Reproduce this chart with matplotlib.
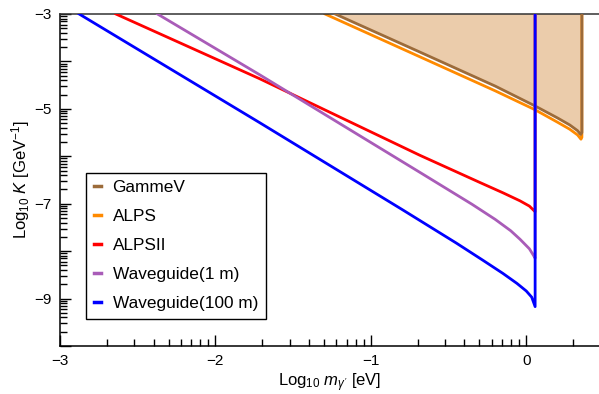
import numpy as np
import matplotlib.pyplot as plt
from matplotlib.ticker import FixedLocator, FuncFormatter

plt.rcParams['font.family'] = ['Liberation Sans', 'DejaVu Sans']
plt.rcParams['mathtext.fontset'] = 'custom'
plt.rcParams['mathtext.rm'] = 'Liberation Sans'
plt.rcParams['mathtext.it'] = 'Liberation Sans:italic'

# log10(m [eV]) and log10(K [GeV^-1])
gammev_x = [-1.23, -0.70, -0.20, 0.057, 0.20, 0.28, 0.33, 0.350, 0.358, 0.358]
gammev_y = [-3.00, -3.78, -4.52, -4.94, -5.19, -5.34, -5.46, -5.54, -5.50, -3.00]

alps_x = [-1.295, -0.70, -0.20, 0.057, 0.20, 0.28, 0.33, 0.352, 0.358, 0.358]
alps_y = [-3.00, -3.88, -4.62, -5.02, -5.28, -5.43, -5.55, -5.64, -5.60, -3.00]

alpsii_x = [-2.641, -1.716, -0.684, -0.30, -0.15, -0.04, 0.02, 0.045, 0.057, 0.057]
alpsii_y = [-3.00, -4.364, -5.98, -6.55, -6.77, -6.94, -7.05, -7.13, -7.17, -3.00]

wg1_x = [-2.373, -1.716, -0.684, -0.35, -0.20, -0.10, -0.04, 0.02, 0.054, 0.057, 0.057]
wg1_y = [-3.00, -4.28, -6.34, -7.01, -7.33, -7.57, -7.75, -7.95, -8.13, -8.15, -3.00]

wg100_x = [-2.877, -1.716, -0.80, -0.45, -0.28, -0.15, -0.06, 0.00, 0.035, 0.057, 0.057]
wg100_y = [-3.00, -5.29, -7.12, -7.83, -8.19, -8.47, -8.68, -8.84, -8.97, -9.17, -3.00]

labels = ['GammeV', 'ALPS', 'ALPSII', 'Waveguide(1 m)', 'Waveguide(100 m)']
colors = ['#9C6B3A', '#FF8A00', '#FF0000', '#A95CB8', '#0000FF']
fill_color = '#EBCCAB'

fig = plt.figure(figsize=(5.99, 3.94), dpi=100)
ax = fig.add_axes([0.1002, 0.1218, 0.8998, 0.8427])

ax.fill(gammev_x, gammev_y, color=fill_color, lw=0, zorder=1)
series = [(gammev_x, gammev_y), (alps_x, alps_y), (alpsii_x, alpsii_y),
          (wg1_x, wg1_y), (wg100_x, wg100_y)]
order = [3, 2.5, 4, 5, 6]
for (x, y), lab, c, z in zip(series, labels, colors, order):
    ax.plot(x, y, color=c, lw=2.0, label=lab, zorder=z, solid_joinstyle='round')

ax.set_xlim(-3, 0.468)
ax.set_ylim(-10, -3)

decades = np.log10(np.arange(2, 10))
ax.xaxis.set_major_locator(FixedLocator([-3, -2, -1, 0]))
ax.xaxis.set_minor_locator(FixedLocator(np.concatenate([d + decades for d in range(-3, 1)])))
ax.yaxis.set_major_locator(FixedLocator(np.arange(-10, -2)))
ax.yaxis.set_minor_locator(FixedLocator(np.concatenate([d + decades for d in range(-10, -3)])))

ax.xaxis.set_major_formatter(FuncFormatter(lambda v, p: f'{int(round(v))}'.replace('-', '\u2212')))
ax.yaxis.set_major_formatter(FuncFormatter(
    lambda v, p: f'{int(round(v))}'.replace('-', '\u2212') if int(round(v)) % 2 else ''))

ax.tick_params(which='both', direction='in', top=False, right=False, width=1.0,
               labelsize=11, pad=6)
ax.tick_params(which='major', length=8)
ax.tick_params(which='minor', length=5)

ax.spines['right'].set_visible(False)
for s in ['left', 'bottom', 'top']:
    ax.spines[s].set_linewidth(1.1)
ax.spines['top'].set_color('#333333')

ax.set_xlabel(r"Log$_{10}$ $m_{\gamma'}$ [eV]", fontsize=12, labelpad=2)
ax.set_ylabel(r"Log$_{10}$ $K$ [GeV$^{-1}$]", fontsize=12, labelpad=2)

leg = ax.legend(loc='upper left', bbox_to_anchor=(0.048, 0.522), borderaxespad=0,
                fontsize=12.4, handlelength=0.4, handletextpad=0.7, labelspacing=0.8,
                borderpad=0.45, fancybox=False, framealpha=1, edgecolor='black')
leg.get_frame().set_linewidth(1.0)
for h in leg.get_lines():
    h.set_linewidth(2.5)

fig.savefig('out.png', dpi=100)
